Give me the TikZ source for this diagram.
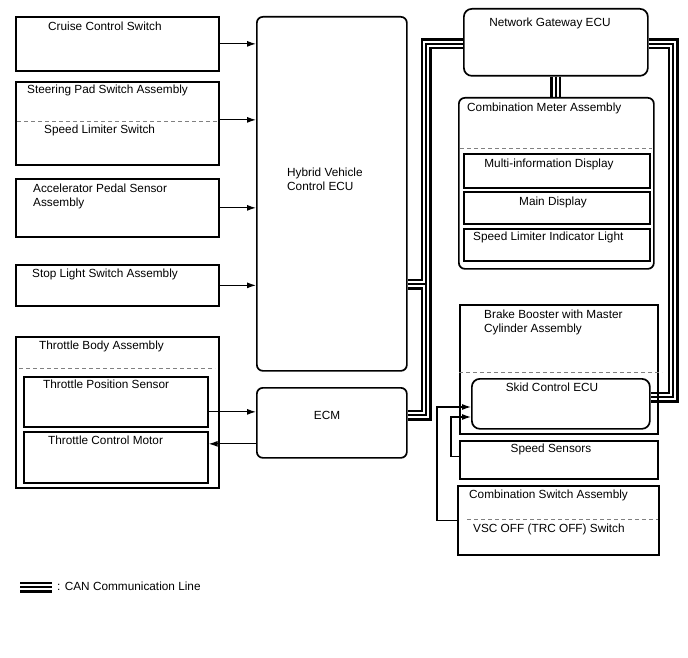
\documentclass[tikz,border=0pt]{standalone}
\usepackage{fontspec}
\setmainfont{Liberation Sans}
\usetikzlibrary{arrows.meta,positioning,calc,backgrounds}

\newcommand{\lbl}{\fontsize{11.8}{14}\selectfont}

\begin{document}
\begin{tikzpicture}[
    x=1pt, y=-1pt,
    box/.style={draw, line width=1.7pt, inner sep=0pt, anchor=north west},
    ecu/.style={box, rounded corners=6pt},
    txt/.style={inner sep=0pt, font=\lbl, align=left, anchor=north west},
    ctxt/.style={inner sep=0pt, font=\lbl, anchor=north},
    sep/.style={draw=gray, line width=0.9pt, dash pattern=on 4pt off 3pt},
    sig/.style={->, >={Latex[length=9pt,width=6pt]}, line width=1.1pt},
    can/.style={line width=11pt, postaction={draw, white, line width=6pt}, postaction={draw, black, line width=2.2pt}}
]
\useasboundingbox (0,0) rectangle (688,658);

% left column: inputs
\node[box, minimum width=203pt, minimum height=54pt] (cruise) at (15,16) {};
\node[txt] (cruise-t) at (48,22) {Cruise Control Switch};

\node[box, minimum width=203pt, minimum height=83pt] (steer) at (15,81) {};
\node[txt] (steer-t) at (27,85) {Steering Pad Switch Assembly};
\draw[sep] (17,121) -- (218,121);
\node[txt] (limsw-t) at (44,125) {Speed Limiter Switch};

\node[box, minimum width=203pt, minimum height=58pt] (accel) at (15,178) {};
\node[txt] (accel-t) at (33,184) {Accelerator Pedal Sensor\\Assembly};

\node[box, minimum width=203pt, minimum height=41pt] (stop) at (15,264) {};
\node[txt] (stop-t) at (32,269) {Stop Light Switch Assembly};

\node[box, minimum width=203pt, minimum height=151pt] (thr) at (15,336) {};
\node[txt] (thr-t) at (39,341) {Throttle Body Assembly};
\draw[sep] (19,368) -- (215,368);
\node[box, minimum width=184pt, minimum height=50pt] (tps) at (23,376) {};
\node[txt] (tps-t) at (43,380) {Throttle Position Sensor};
\node[box, minimum width=184pt, minimum height=51pt] (tcm) at (23,431) {};
\node[txt] (tcm-t) at (48,436) {Throttle Control Motor};

% middle column: ECUs
\node[ecu, minimum width=150pt, minimum height=354pt] (hv) at (256,16) {};
\node[txt] (hv-t) at (287,168) {Hybrid Vehicle\\Control ECU};
\node[ecu, minimum width=150pt, minimum height=70pt] (ecm) at (256,387) {};
\node[ctxt] (ecm-t) at (327,411) {ECM};

% right column
\node[ecu, rounded corners=8pt, minimum width=184pt, minimum height=67pt] (gw) at (463,8) {};
\node[ctxt] (gw-t) at (550,18) {Network Gateway ECU};

\node[ecu, minimum width=195pt, minimum height=171pt] (meter) at (458,97) {};
\node[txt] (meter-t) at (467,103) {Combination Meter Assembly};
\draw[sep] (460,148) -- (652,148);
\node[box, minimum width=186pt, minimum height=34pt] (mid) at (463,153) {};
\node[ctxt] (mid-t) at (549,159) {Multi-information Display};
\node[box, minimum width=186pt, minimum height=32pt] (main) at (463,191) {};
\node[ctxt] (main-t) at (553,197) {Main Display};
\node[box, minimum width=186pt, minimum height=32pt] (slil) at (463,228) {};
\node[txt] (slil-t) at (473,232) {Speed Limiter Indicator Light};

\node[box, minimum width=198pt, minimum height=129pt] (bb) at (459,304) {};
\node[txt] (bb-t) at (484,310) {Brake Booster with Master\\Cylinder Assembly};
\draw[sep] (459,372) -- (662,372);
\node[ecu, rounded corners=8pt, minimum width=178pt, minimum height=50pt] (skid) at (471,378) {};
\node[ctxt] (skid-t) at (552,383) {Skid Control ECU};

\node[box, minimum width=198pt, minimum height=38pt] (spd) at (459,440) {};
\node[ctxt] (spd-t) at (551,444) {Speed Sensors};

\node[box, minimum width=201pt, minimum height=69pt] (csw) at (457,485) {};
\node[txt] (csw-t) at (469,490) {Combination Switch Assembly};
\draw[sep] (467,519) -- (658,519);
\node[txt] (vsc-t) at (473,524) {VSC OFF (TRC OFF) Switch};

% signal lines
\draw[sig] (cruise.east) -- (cruise.east -| hv.west);
\draw[sig] ([yshift=3.5pt]steer.east) -- ([yshift=3.5pt]steer.east -| hv.west);
\draw[sig] (accel.east) -- (accel.east -| hv.west);
\draw[sig] (stop.east) -- (stop.east -| hv.west);
\draw[sig] ([yshift=-10pt]tps.east) -- ([yshift=-10pt]tps.east -| ecm.west);
\draw[sig] ([yshift=13.5pt]tcm.east -| ecm.west) -- ([yshift=13.5pt]tcm.east);

\coordinate (k1) at (451,417);
\coordinate (k2) at (437,407);
\draw[sig] ([yshift=3pt]spd.west) -| (k1) -- (k1 -| skid.west);
\draw[sig] (csw.west) -| (k2) -- (k2 -| skid.west);

% CAN bus
\coordinate (jt) at (426,44);
\coordinate (jh) at (426,284);
\coordinate (jb) at (426,415);
\coordinate (rt) at (673,44);
\coordinate (rb) at (673,397);
\begin{scope}[on background layer]
\draw[can] (jt -| gw.west) -- (jt) -- (jb) -- (jb -| ecm.east)
           (jh -| hv.east) -- (jh)
           (rt -| gw.east) -- (rt) -- (rb) -- (rb -| skid.east)
           (gw.south) -- (gw.south |- meter.north);
\end{scope}

% legend
\coordinate (lg1) at (20,587);
\coordinate (lg2) at (52,587);
\draw[can] (lg1) -- (lg2);
\node[txt] (lg-t) at (57,582) {: CAN Communication Line};

\end{tikzpicture}
\end{document}
